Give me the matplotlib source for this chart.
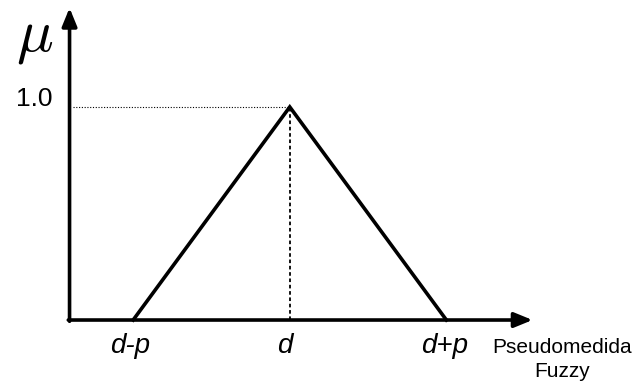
import matplotlib.pyplot as plt

# triangular membership function
x_pts = [-1, 0, 1]
mu_pts = [0, 1, 0]
tick_pos = [-1, 0, 1]
tick_labels = ["d-p", "d", "d+p"]

fig = plt.figure(figsize=(6.4, 3.85), dpi=100)
ax = fig.add_axes([0, 0, 1, 1])
ax.set_xlim(-1.85, 2.236)
ax.set_ylim(-0.305, 1.502)
ax.axis("off")

y_axis_x = -1.406
arrow = dict(arrowstyle="-|>,head_length=1.1,head_width=0.45", lw=2.6, color="black",
             shrinkA=0, shrinkB=0)
# axes with arrows
ax.annotate("", xy=(1.55, 0), xytext=(y_axis_x - 0.008, 0), arrowprops=arrow)
ax.annotate("", xy=(y_axis_x, 1.465), xytext=(y_axis_x, -0.006), arrowprops=arrow)

# guides
ax.plot([y_axis_x + 0.02, 0], [1, 1], color="black", lw=0.8, ls=(0, (1, 1.5)))
ax.plot([0, 0], [0, 1], color="black", lw=1.3, ls=(0, (2, 1.5)))

# triangle
ax.plot(x_pts, mu_pts, color="black", lw=2.6, solid_joinstyle="miter")

font = "Liberation Sans"
offsets = [-0.02, -0.03, -0.01]
for xp, lab, off in zip(tick_pos, tick_labels, offsets):
    ax.text(xp + off, -0.06, lab, fontsize=20, style="italic",
            family=font, ha="center", va="top")

ax.text(-1.515, 1.035, "1.0", fontsize=19, family=font, ha="right", va="center")
ax.text(-1.51, 1.33, r"$\mu$", fontsize=44, math_fontfamily="cm",
        ha="right", va="center")
ax.text(1.737, -0.085, "Pseudomedida\nFuzzy", fontsize=15, family=font, ha="center",
        va="top", linespacing=1.3)

fig.savefig("out.png", dpi=100)
